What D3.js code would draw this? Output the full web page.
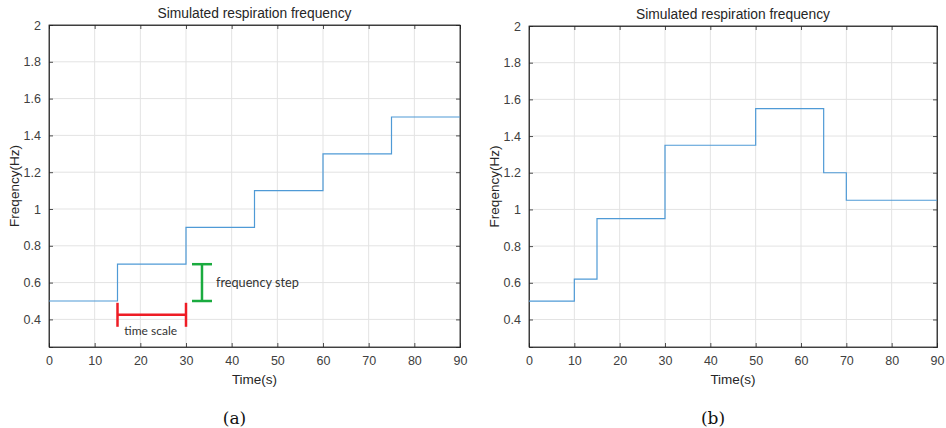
<!DOCTYPE html>
<html>
<head>
<meta charset="utf-8">
<script src="https://cdn.jsdelivr.net/npm/d3@7"></script>
<style>
  body { margin: 0; background: #fff; }
  svg text { font-family: "Liberation Sans", Arial, sans-serif; }
</style>
</head>
<body>
<div id="chart"></div>
<script>
// step series: each value holds from its start time to the next one
const timesA = [0, 15, 30, 45, 60, 75, 90];
const freqA = [0.5, 0.7, 0.9, 1.1, 1.3, 1.5, 1.5];
const timesB = [0, 10, 15, 30, 50, 65, 70, 90];
const freqB = [0.5, 0.62, 0.95, 1.35, 1.55, 1.2, 1.05, 1.05];
const xTicks = [0, 10, 20, 30, 40, 50, 60, 70, 80, 90];
const yTicks = [0.4, 0.6, 0.8, 1, 1.2, 1.4, 1.6, 1.8, 2];
const panelLabels = ["(a)", "(b)"];

const svg = d3.select("#chart").append("svg")
  .attr("width", 946)
  .attr("height", 428);

function drawPanel(left, right, top, bottom, times, freq, label) {
  const x = d3.scaleLinear().domain([0, 90]).range([left, right]);
  const y = d3.scaleLinear().domain([0.25, 2]).range([bottom, top]);
  const g = svg.append("g");

  // grid
  g.selectAll(".gx").data(xTicks).join("line")
    .attr("x1", d => x(d)).attr("x2", d => x(d))
    .attr("y1", top).attr("y2", bottom)
    .attr("stroke", "#e3e3e3").attr("stroke-width", 1);
  g.selectAll(".gy").data(yTicks).join("line")
    .attr("x1", left).attr("x2", right)
    .attr("y1", d => y(d)).attr("y2", d => y(d))
    .attr("stroke", "#e3e3e3").attr("stroke-width", 1);

  g.append("g").attr("transform", `translate(0,${bottom})`)
    .call(d3.axisBottom(x).tickValues(xTicks).tickSize(-4).tickPadding(9).tickFormat(d3.format("d")));
  g.append("g").attr("transform", `translate(${left},0)`)
    .call(d3.axisLeft(y).tickValues(yTicks).tickSize(-4).tickPadding(8).tickFormat(d => d3.format("")(d)));
  // top / right ticks mirror
  g.append("g").attr("transform", `translate(0,${top})`)
    .call(d3.axisTop(x).tickValues(xTicks).tickSize(-4).tickFormat(""));
  g.append("g").attr("transform", `translate(${right},0)`)
    .call(d3.axisRight(y).tickValues(yTicks).tickSize(-4).tickFormat(""));

  g.selectAll(".domain").attr("stroke", "#262626").attr("stroke-width", 0.8);
  g.selectAll(".tick line").attr("stroke", "#262626").attr("stroke-width", 0.8);
  g.selectAll(".tick text").attr("fill", "#404040").attr("font-size", 12.5)
    .attr("font-family", "Liberation Sans, Arial, sans-serif");

  g.append("rect")
    .attr("x", left).attr("y", top)
    .attr("width", right - left).attr("height", bottom - top)
    .attr("fill", "none").attr("stroke", "#262626").attr("stroke-width", 0.8);

  const line = d3.line()
    .x(d => x(d[0])).y(d => y(d[1]))
    .curve(d3.curveStepAfter);
  g.append("path")
    .datum(times.map((t, i) => [t, freq[i]]))
    .attr("d", line)
    .attr("fill", "none")
    .attr("stroke", "#4f9ad6")
    .attr("stroke-width", 1.2);

  g.append("text")
    .attr("x", (left + right) / 2).attr("y", top - 7)
    .attr("text-anchor", "middle")
    .attr("font-size", 13.8).attr("fill", "#262626")
    .text("Simulated respiration frequency");
  g.append("text")
    .attr("x", (left + right) / 2).attr("y", bottom + 37)
    .attr("text-anchor", "middle")
    .attr("font-size", 13.5).attr("fill", "#262626")
    .text("Time(s)");
  g.append("text")
    .attr("transform", `translate(${left - 30},${(top + bottom) / 2}) rotate(-90)`)
    .attr("text-anchor", "middle")
    .attr("font-size", 13.5).attr("fill", "#262626")
    .text("Freqency(Hz)");
  g.append("text")
    .attr("x", (left + right) / 2 - 20).attr("y", 424)
    .attr("text-anchor", "middle")
    .attr("font-size", 17).attr("fill", "#111")
    .style("font-family", "DejaVu Serif, Liberation Serif, serif")
    .text(label);

  return { x, y, g };
}

const pa = drawPanel(49, 460, 25, 347, timesA, freqA, panelLabels[0]);
drawPanel(529, 937, 26, 347, timesB, freqB, panelLabels[1]);

// annotations on panel (a)
const { x, y, g } = pa;
const red = "#ee1c25", green = "#1aab3f";
const ts = [15, 30], tsY = 0.425;
g.append("line").attr("x1", x(ts[0])).attr("x2", x(ts[1]))
  .attr("y1", y(tsY)).attr("y2", y(tsY)).attr("stroke", red).attr("stroke-width", 2.5);
ts.forEach(t => {
  g.append("line").attr("x1", x(t)).attr("x2", x(t))
    .attr("y1", y(tsY) - 12).attr("y2", y(tsY) + 12)
    .attr("stroke", red).attr("stroke-width", 2.5);
});
g.append("text").attr("x", x(16.5)).attr("y", y(tsY) + 20)
  .attr("font-size", 12).attr("fill", "#333")
  .style("font-family", "Lato, Open Sans, sans-serif")
  .text("time scale");

const fsX = 33.5, fs = [0.5, 0.7];
g.append("line").attr("x1", x(fsX)).attr("x2", x(fsX))
  .attr("y1", y(fs[0])).attr("y2", y(fs[1])).attr("stroke", green).attr("stroke-width", 2.5);
fs.forEach(v => {
  g.append("line").attr("x1", x(fsX) - 10).attr("x2", x(fsX) + 10)
    .attr("y1", y(v)).attr("y2", y(v))
    .attr("stroke", green).attr("stroke-width", 2.5);
});
g.append("text").attr("x", x(fsX) + 14).attr("y", y(0.6) + 4)
  .attr("font-size", 12.7).attr("fill", "#333")
  .style("font-family", "Lato, Open Sans, sans-serif")
  .text("frequency step");
</script>
</body>
</html>
